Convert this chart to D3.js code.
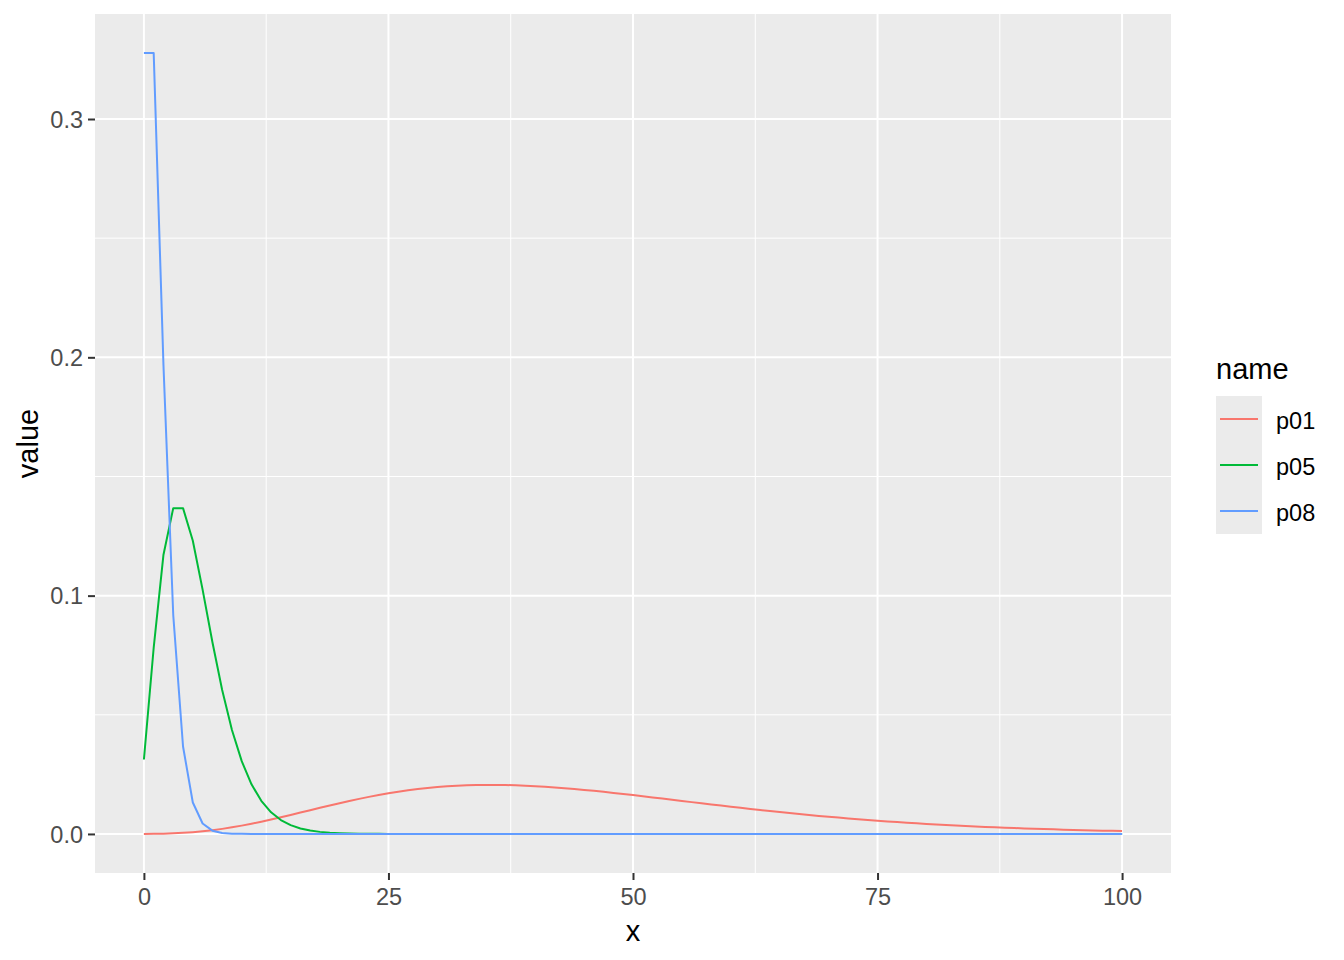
<!DOCTYPE html>
<html>
<head>
<meta charset="utf-8">
<script src="https://cdn.jsdelivr.net/npm/d3@7"></script>
<style>
  html, body { margin: 0; padding: 0; background: #fff; }
  svg { display: block; font-family: "Liberation Sans", Arial, sans-serif; }
</style>
</head>
<body>
<svg id="chart" width="1344" height="960"></svg>
<script>
// ---- data ----
const seriesNames = ["p01", "p05", "p08"];
const xValues = d3.range(0, 101);

const p01 = [
  0.00001, 0.000045, 0.0001215, 0.00025515, 0.00045927, 0.00074402, 0.00111603, 0.00157838, 0.00213081, 0.00277005,
  0.00349026, 0.00428350, 0.00514020, 0.00604962, 0.00700027, 0.00798031, 0.00897785, 0.00998125, 0.01097938, 0.01196175,
  0.01291869, 0.01384146, 0.01472228, 0.01555441, 0.01633213, 0.01705074, 0.01770653, 0.01829675, 0.01881952, 0.01927378,
  0.01965926, 0.01997634, 0.02022604, 0.02040991, 0.02052996, 0.02058862, 0.02058862, 0.02053297, 0.02042491, 0.02026780,
  0.02006512, 0.01982043, 0.01953728, 0.01921923, 0.01886979, 0.01849239, 0.01809038, 0.01766699, 0.01722532, 0.01676831,
  0.01629880, 0.01581942, 0.01533267, 0.01484088, 0.01434618, 0.01385058, 0.01335592, 0.01286387, 0.01237594, 0.01189350,
  0.01141776, 0.01094981, 0.01049063, 0.01004103, 0.00960174, 0.00917336, 0.00875639, 0.00835124, 0.00795824, 0.00757763,
  0.00720957, 0.00685417, 0.00651146, 0.00618142, 0.00586400, 0.00555907, 0.00526649, 0.00498607, 0.00471759, 0.00446081,
  0.00421547, 0.00398128, 0.00375794, 0.00354514, 0.00334256, 0.00314987, 0.00296674, 0.00279282, 0.00262779, 0.00247130,
  0.00232302, 0.00218261, 0.00204976, 0.00192413, 0.00180541, 0.00169329, 0.00158746, 0.00148763, 0.00139352, 0.00130484,
  0.00122133
];

const p05 = [
  0.03125, 0.078125, 0.1171875, 0.13671875, 0.13671875, 0.12304688, 0.10253906, 0.08056641, 0.06042480, 0.04364014,
  0.03054810, 0.02082824, 0.01388550, 0.00907898, 0.00583649, 0.00369644, 0.00231028, 0.00142694, 0.00087202, 0.00052780,
  0.00031668, 0.00018850, 0.00011139, 0.0000654, 0.0000381, 0.0000221, 0.0000127, 0.0000073, 0.0000042, 0.0000024,
  0, 0, 0, 0, 0, 0, 0, 0, 0, 0,
  0, 0, 0, 0, 0, 0, 0, 0, 0, 0,
  0, 0, 0, 0, 0, 0, 0, 0, 0, 0,
  0, 0, 0, 0, 0, 0, 0, 0, 0, 0,
  0, 0, 0, 0, 0, 0, 0, 0, 0, 0,
  0, 0, 0, 0, 0, 0, 0, 0, 0, 0,
  0, 0, 0, 0, 0, 0, 0, 0, 0, 0,
  0
];

const p08 = [
  0.32768, 0.32768, 0.196608, 0.0917504, 0.03670016, 0.01321206, 0.00440402, 0.00138412, 0.00041524, 0.00012010,
  0.0000336, 0.0000092, 0.0000025, 0.0000007, 0, 0, 0, 0, 0, 0,
  0, 0, 0, 0, 0, 0, 0, 0, 0, 0,
  0, 0, 0, 0, 0, 0, 0, 0, 0, 0,
  0, 0, 0, 0, 0, 0, 0, 0, 0, 0,
  0, 0, 0, 0, 0, 0, 0, 0, 0, 0,
  0, 0, 0, 0, 0, 0, 0, 0, 0, 0,
  0, 0, 0, 0, 0, 0, 0, 0, 0, 0,
  0, 0, 0, 0, 0, 0, 0, 0, 0, 0,
  0, 0, 0, 0, 0, 0, 0, 0, 0, 0,
  0
];

const xTicks = [0, 25, 50, 75, 100];
const xMinor = [12.5, 37.5, 62.5, 87.5];
const yTicks = [0, 0.1, 0.2, 0.3];
const yMinor = [0.05, 0.15, 0.25];
const colors = ["#F8766D", "#00BA38", "#619CFF"];

// ---- layout ----
const svg = d3.select("#chart");
const panel = { left: 95, right: 1171, top: 14, bottom: 873 };

const series = [p01, p05, p08].map((vals, i) => ({
  name: seriesNames[i],
  color: colors[i],
  points: xValues.map((x, j) => ({ x: x, y: vals[j] }))
}));

const xExt = d3.extent(xValues);
const allY = [].concat(p01, p05, p08);
const yExt = d3.extent(allY);
const xPad = (xExt[1] - xExt[0]) * 0.05;
const yPad = (yExt[1] - yExt[0]) * 0.05;

const x = d3.scaleLinear().domain([xExt[0] - xPad, xExt[1] + xPad]).range([panel.left, panel.right]);
const y = d3.scaleLinear().domain([yExt[0] - yPad, yExt[1] + yPad]).range([panel.bottom, panel.top]);

// panel background
svg.append("rect")
  .attr("x", panel.left).attr("y", panel.top)
  .attr("width", panel.right - panel.left).attr("height", panel.bottom - panel.top)
  .attr("fill", "#EBEBEB");

const grid = svg.append("g");
// minor grid
grid.selectAll(".xminor").data(xMinor).enter().append("line")
  .attr("x1", d => x(d)).attr("x2", d => x(d))
  .attr("y1", panel.top).attr("y2", panel.bottom)
  .attr("stroke", "#fff").attr("stroke-width", 1);
grid.selectAll(".yminor").data(yMinor).enter().append("line")
  .attr("y1", d => y(d)).attr("y2", d => y(d))
  .attr("x1", panel.left).attr("x2", panel.right)
  .attr("stroke", "#fff").attr("stroke-width", 1);
// major grid
grid.selectAll(".xmajor").data(xTicks).enter().append("line")
  .attr("x1", d => x(d)).attr("x2", d => x(d))
  .attr("y1", panel.top).attr("y2", panel.bottom)
  .attr("stroke", "#fff").attr("stroke-width", 2);
grid.selectAll(".ymajor").data(yTicks).enter().append("line")
  .attr("y1", d => y(d)).attr("y2", d => y(d))
  .attr("x1", panel.left).attr("x2", panel.right)
  .attr("stroke", "#fff").attr("stroke-width", 2);

// lines
const line = d3.line().x(d => x(d.x)).y(d => y(d.y));
svg.append("g").selectAll("path").data(series).enter().append("path")
  .attr("d", d => line(d.points))
  .attr("fill", "none")
  .attr("stroke", d => d.color)
  .attr("stroke-width", 2)
  .attr("stroke-linejoin", "round");

// axes
const xAxis = d3.axisBottom(x).tickValues(xTicks).tickSize(7).tickPadding(8).tickFormat(d3.format("d"));
const yAxis = d3.axisLeft(y).tickValues(yTicks).tickSize(7).tickPadding(5).tickFormat(d3.format(".1f"));

const gx = svg.append("g").attr("transform", `translate(0,${panel.bottom})`).call(xAxis);
const gy = svg.append("g").attr("transform", `translate(${panel.left},0)`).call(yAxis);
[gx, gy].forEach(g => {
  g.select(".domain").remove();
  g.selectAll(".tick line").attr("stroke", "#333333").attr("stroke-width", 2);
  g.selectAll(".tick text").attr("fill", "#4D4D4D").style("font-size", "23.5px")
    .style("font-family", '"Liberation Sans", Arial, sans-serif');
});
gx.selectAll(".tick text").attr("dy", "0.71em");
gy.selectAll(".tick text").attr("dy", "0.35em");

// axis titles
svg.append("text")
  .attr("x", (panel.left + panel.right) / 2).attr("y", 941)
  .attr("text-anchor", "middle").attr("fill", "#000")
  .style("font-size", "29px").text("x");
svg.append("text")
  .attr("transform", `translate(38,${(panel.top + panel.bottom) / 2}) rotate(-90)`)
  .attr("text-anchor", "middle").attr("fill", "#000")
  .style("font-size", "29px").text("value");

// legend
const leg = svg.append("g");
leg.append("text").attr("x", 1216).attr("y", 379).attr("fill", "#000")
  .style("font-size", "29px").text("name");
const keyTop = 396, keyH = 46, keyX = 1216, keyW = 46;
leg.append("rect").attr("x", keyX).attr("y", keyTop)
  .attr("width", keyW).attr("height", keyH * series.length).attr("fill", "#EBEBEB");
const rows = leg.selectAll(".row").data(series).enter().append("g")
  .attr("transform", (d, i) => `translate(0,${keyTop + keyH * i + keyH / 2})`);
rows.append("line").attr("x1", keyX + 4).attr("x2", keyX + keyW - 4)
  .attr("y1", 0).attr("y2", 0).attr("stroke", d => d.color).attr("stroke-width", 2);
rows.append("text").attr("x", 1276).attr("y", 2).attr("dy", "0.35em")
  .attr("fill", "#000").style("font-size", "23.5px").text(d => d.name);
</script>
</body>
</html>
